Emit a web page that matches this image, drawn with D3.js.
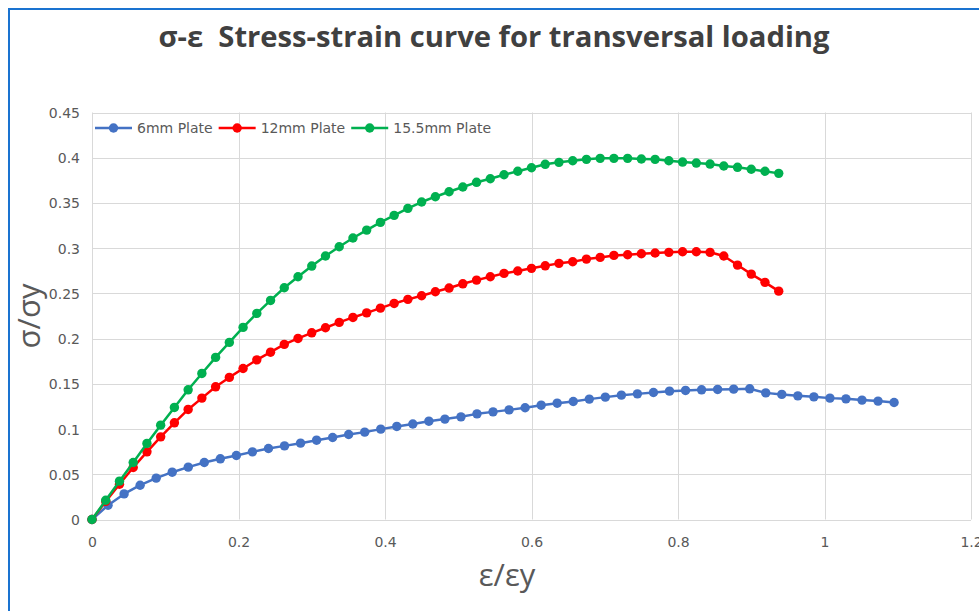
<!DOCTYPE html>
<html>
<head>
	<title>Stress-strain curve</title>
	<script type="text/javascript" src="https://cdn.jsdelivr.net/npm/d3@7/dist/d3.min.js"></script>
	<style type="text/css">
		body { margin: 0; background: #fff; }
		.chart { display: block; }
		.tick-label { font-family: 'DejaVu Sans', sans-serif; font-size: 14px; fill: #595959; }
	</style>
</head>
<body>
	<svg width=979 height=611 class="chart"></svg>
	<script type="text/javascript">

		// strain (x) values, eps/eps_y
		strain6mm = [0, 0.0219, 0.0438, 0.0657, 0.0876, 0.1095, 0.1314, 0.1533, 0.1752, 0.1971,
			0.219, 0.2409, 0.2628, 0.2847, 0.3066, 0.3285, 0.3504, 0.3723, 0.3942, 0.4161,
			0.438, 0.4599, 0.4818, 0.5037, 0.5256, 0.5475, 0.5694, 0.5913, 0.6132, 0.6351,
			0.657, 0.6789, 0.7008, 0.7227, 0.7446, 0.7665, 0.7884, 0.8103, 0.8322, 0.8541,
			0.876, 0.8979, 0.9198, 0.9417, 0.9636, 0.9855, 1.0074, 1.0293, 1.0512, 1.0731, 1.095]

		strainThick = [0, 0.01875, 0.0375, 0.05625, 0.075, 0.09375, 0.1125, 0.13125, 0.15, 0.16875,
			0.1875, 0.20625, 0.225, 0.24375, 0.2625, 0.28125, 0.3, 0.31875, 0.3375, 0.35625,
			0.375, 0.39375, 0.4125, 0.43125, 0.45, 0.46875, 0.4875, 0.50625, 0.525, 0.54375,
			0.5625, 0.58125, 0.6, 0.61875, 0.6375, 0.65625, 0.675, 0.69375, 0.7125, 0.73125,
			0.75, 0.76875, 0.7875, 0.80625, 0.825, 0.84375, 0.8625, 0.88125, 0.9, 0.91875, 0.9375]

		// stress (y) values, sigma/sigma_y
		stress6mm = [0, 0.0158, 0.0283, 0.0379, 0.0457, 0.0523, 0.0579, 0.0630, 0.0671, 0.0708,
			0.0748, 0.0785, 0.0814, 0.0844, 0.0877, 0.0907, 0.0940, 0.0966, 0.0999, 0.1029,
			0.1056, 0.1087, 0.1110, 0.1135, 0.1168, 0.1190, 0.1212, 0.1235, 0.1264, 0.1286,
			0.1305, 0.1331, 0.1353, 0.1375, 0.1389, 0.1404, 0.1419, 0.1427, 0.1434, 0.1438,
			0.1441, 0.1445, 0.1400, 0.1383, 0.1367, 0.1356, 0.1342, 0.1334, 0.1320, 0.1309, 0.1294]

		stress12mm = [0, 0.020, 0.039, 0.0575, 0.0748, 0.0914, 0.1069, 0.1217, 0.1342, 0.1467,
			0.1571, 0.1670, 0.1765, 0.185, 0.1936, 0.2002, 0.2064, 0.2120, 0.2179, 0.2234,
			0.2285, 0.2337, 0.2389, 0.2434, 0.2474, 0.2518, 0.2559, 0.2606, 0.2647, 0.2684,
			0.2721, 0.2747, 0.2777, 0.2805, 0.2832, 0.2850, 0.2879, 0.2898, 0.2920, 0.2927,
			0.2938, 0.2946, 0.2954, 0.2960, 0.2960, 0.2954, 0.2913, 0.2813, 0.2713, 0.2622, 0.2525]

		stress15mm = [0, 0.0213, 0.0424, 0.0630, 0.0841, 0.1043, 0.1239, 0.1434, 0.1615, 0.1792,
			0.1958, 0.2124, 0.2279, 0.2422, 0.2562, 0.2684, 0.2802, 0.2913, 0.3016, 0.3112,
			0.3200, 0.3285, 0.3363, 0.3440, 0.3510, 0.3569, 0.3624, 0.3676, 0.3728, 0.3768,
			0.3812, 0.3850, 0.3889, 0.3927, 0.3949, 0.3967, 0.3982, 0.3993, 0.3993, 0.3993,
			0.3986, 0.3982, 0.3967, 0.3952, 0.3941, 0.3930, 0.3908, 0.3894, 0.3872, 0.3850, 0.3827]

		seriesNames = ['6mm Plate', '12mm Plate', '15.5mm Plate']
		seriesColors = ['#4472C4', '#FF0000', '#00B050']
		xTicks = [0, 0.2, 0.4, 0.6, 0.8, 1, 1.2]
		yTicks = [0, 0.05, 0.1, 0.15, 0.2, 0.25, 0.3, 0.35, 0.4, 0.45]

		series = [
			{name: seriesNames[0], color: seriesColors[0], xs: strain6mm, ys: stress6mm},
			{name: seriesNames[1], color: seriesColors[1], xs: strainThick, ys: stress12mm},
			{name: seriesNames[2], color: seriesColors[2], xs: strainThick, ys: stress15mm}
		]

		plot = {left: 92, right: 971, top: 112.5, bottom: 519.5}

		svg = d3.select('.chart')

		x = d3.scaleLinear().domain([0, 1.2]).range([plot.left, plot.right])
		y = d3.scaleLinear().domain([0, 0.45]).range([plot.bottom, plot.top])

		// outer frame (only top and left edges show)
		svg.append('rect')
			.attr('x', 9).attr('y', 9)
			.attr('width', 1100).attr('height', 800)
			.attr('fill', 'none')
			.attr('stroke', '#1a73d0')
			.attr('stroke-width', 2)

		// title
		svg.append('text')
			.attr('x', 494)
			.attr('y', 47)
			.attr('text-anchor', 'middle')
			.attr('textLength', 671)
			.attr('lengthAdjust', 'spacingAndGlyphs')
			.style('white-space', 'pre')
			.style('font-family', "'Open Sans', sans-serif")
			.style('font-weight', 'bold')
			.style('font-size', '29px')
			.style('fill', '#404040')
			.text('σ-ε  Stress-strain curve for transversal loading')

		// gridlines
		svg.append('g')
			.selectAll('line')
			.data(yTicks)
			.enter()
			.append('line')
			.attr('x1', plot.left).attr('x2', plot.right)
			.attr('y1', function(d) {return Math.round(y(d)) + 0.5})
			.attr('y2', function(d) {return Math.round(y(d)) + 0.5})
			.attr('stroke', '#d9d9d9')

		svg.append('g')
			.selectAll('line')
			.data(xTicks)
			.enter()
			.append('line')
			.attr('y1', plot.top).attr('y2', plot.bottom)
			.attr('x1', function(d) {return Math.round(x(d)) + 0.5})
			.attr('x2', function(d) {return Math.round(x(d)) + 0.5})
			.attr('stroke', '#d9d9d9')

		// axes labels via d3 axes, no lines
		yAxis = svg.append('g')
			.attr('transform', 'translate(' + (plot.left - 12) + ',0)')
			.call(d3.axisLeft(y).tickValues(yTicks).tickSize(0).tickPadding(0)
				.tickFormat(function(d) {return String(+d.toFixed(2))}))
		yAxis.select('.domain').remove()
		yAxis.selectAll('text').attr('class', 'tick-label').attr('dy', '0.36em')

		xAxis = svg.append('g')
			.attr('transform', 'translate(0,' + (plot.bottom + 18) + ')')
			.call(d3.axisBottom(x).tickValues(xTicks).tickSize(0).tickPadding(0)
				.tickFormat(function(d) {return String(+d.toFixed(1))}))
		xAxis.select('.domain').remove()
		xAxis.selectAll('text').attr('class', 'tick-label')

		// axis titles
		svg.append('text')
			.attr('transform', 'translate(40,' + ((plot.top + plot.bottom) / 2) + ') rotate(-90)')
			.attr('text-anchor', 'middle')
			.style('font-family', "'Open Sans', sans-serif")
			.style('font-size', '31px')
			.style('fill', '#595959')
			.text('σ/σy')

		svg.append('text')
			.attr('x', 507)
			.attr('y', 586)
			.attr('text-anchor', 'middle')
			.style('font-family', "'Open Sans', sans-serif")
			.style('font-size', '31px')
			.style('fill', '#595959')
			.text('ε/εy')

		// series
		line = d3.line()
			.x(function(d) {return x(d[0])})
			.y(function(d) {return y(d[1])})

		series.forEach(function(s) {
			pts = s.xs.map(function(v, i) {return [v, s.ys[i]]})
			g = svg.append('g').attr('class', 'series')
			g.append('path')
				.datum(pts)
				.attr('d', line)
				.attr('fill', 'none')
				.attr('stroke', s.color)
				.attr('stroke-width', 2.5)
				.attr('stroke-linejoin', 'round')
			g.selectAll('circle')
				.data(pts)
				.enter()
				.append('circle')
				.attr('cx', function(d) {return x(d[0])})
				.attr('cy', function(d) {return y(d[1])})
				.attr('r', 4.7)
				.attr('fill', s.color)
		})

		// legend
		legend = svg.append('g').attr('class', 'legend')
		lx = 95
		ly = 128
		series.forEach(function(s) {
			item = legend.append('g')
			item.append('line')
				.attr('x1', lx).attr('x2', lx + 37)
				.attr('y1', ly).attr('y2', ly)
				.attr('stroke', s.color)
				.attr('stroke-width', 2.5)
			item.append('circle')
				.attr('cx', lx + 18.5).attr('cy', ly)
				.attr('r', 4.7)
				.attr('fill', s.color)
			t = item.append('text')
				.attr('class', 'tick-label')
				.attr('x', lx + 42)
				.attr('y', ly)
				.attr('dy', '0.36em')
				.text(s.name)
			lx = lx + 42 + t.node().getComputedTextLength() + 6
		})

	</script>
</body>
</html>
